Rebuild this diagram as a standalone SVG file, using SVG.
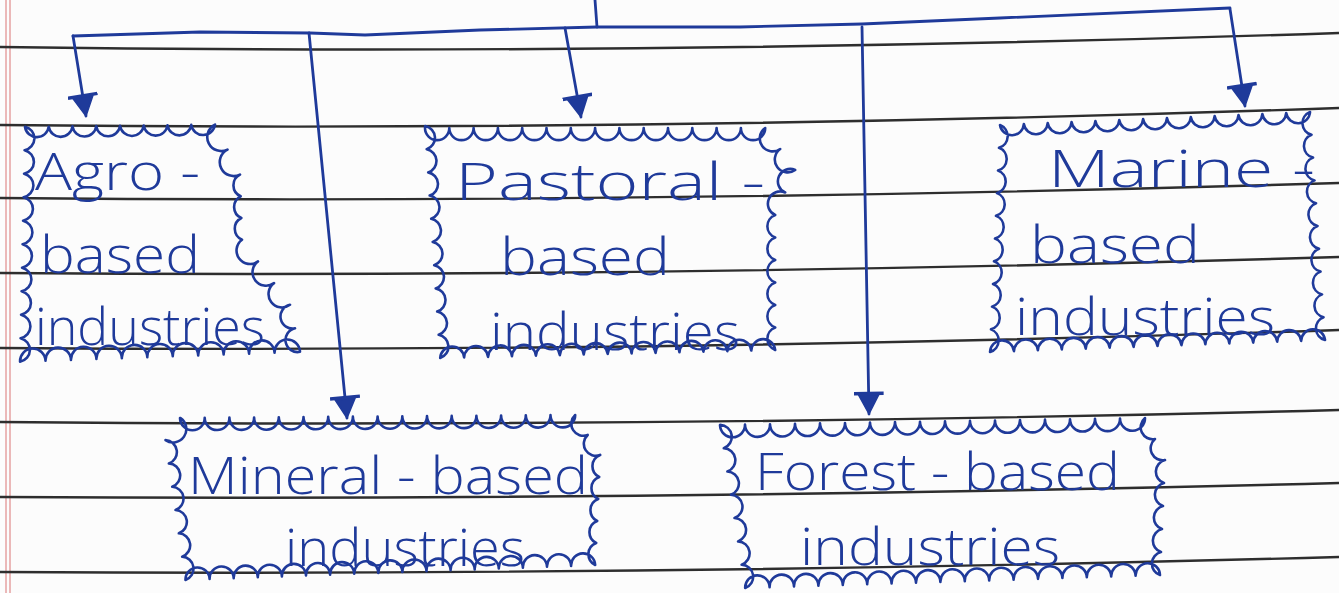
<svg xmlns="http://www.w3.org/2000/svg" width="1339" height="593" viewBox="0 0 1339 593">
<style>
.rule{fill:none;stroke:#2e2e2e;stroke-width:2.4}
.margin{stroke:#e08a8a;stroke-width:1.2}
.ink{fill:none;stroke:#1f3a9a;stroke-width:2.8;stroke-linecap:round;stroke-linejoin:round}
.bd{fill:none;stroke:#1f3a9a;stroke-width:2.6;stroke-linejoin:round}
.t{fill:#1f3a9a;font-family:"Open Sans","Liberation Sans",sans-serif;font-weight:300;font-size:52px}
</style>
<defs>
<marker id="ah" viewBox="0 0 24 30" refX="23" refY="15" markerWidth="24" markerHeight="30" markerUnits="userSpaceOnUse" orient="auto">
<path d="M23 15 L4 5 L4 25 Z" fill="#1f3a9a" stroke="#1f3a9a" stroke-width="1.5" stroke-linejoin="round"/>
<path d="M2.5 0 L2.5 30" stroke="#1f3a9a" stroke-width="3.5"/>
</marker>
</defs>
<rect width="1339" height="593" fill="#fcfcfc"/>
<g id="paper">
<line class="margin" x1="6" y1="0" x2="6" y2="593"/>
<line class="margin" x1="10" y1="0" x2="10" y2="593"/>
<path class="rule" d="M0 47 Q650 56 1339 33"/>
<path class="rule" d="M0 125 Q650 132 1339 108"/>
<path class="rule" d="M0 198 Q650 204 1339 183"/>
<path class="rule" d="M0 273 Q650 278 1339 257"/>
<path class="rule" d="M0 348 Q650 353 1339 330"/>
<path class="rule" d="M0 422 Q650 428 1339 410"/>
<path class="rule" d="M0 497 Q650 501 1339 483"/>
<path class="rule" d="M0 572 Q650 576 1339 557"/>
</g>
<g id="connectors">
<path class="ink" d="M595 0 L597 27"/>
<path class="ink" d="M73 36 L200 32 L310 33 L365 35 L480 30 L597 27 L740 27 L862 24 L1000 18 L1230 8"/>
<path class="ink" d="M73 36 L86 116" marker-end="url(#ah)"/>
<path class="ink" d="M565 28 L581 117" marker-end="url(#ah)"/>
<path class="ink" d="M1230 9 L1245 106" marker-end="url(#ah)"/>
<path class="ink" d="M309 33 L347 418" marker-end="url(#ah)"/>
<path class="ink" d="M862 27 L869 414" marker-end="url(#ah)"/>
</g>
<g id="agro">
<path class="bd" d="M25 127 a12 12 0 0 0 23.75 -0.3 a12 12 0 0 0 23.75 -0.3 a12 12 0 0 0 23.75 -0.3 a12 12 0 0 0 23.75 -0.3 a12 12 0 0 0 23.75 -0.3 a12 12 0 0 0 23.75 -0.3 a12 12 0 0 0 23.75 -0.3 a12 12 0 0 0 23.75 -0.3
a12 12 0 0 0 12.5 25 a12 12 0 0 0 12.5 25
a12 12 0 0 0 0.67 21.7 a12 12 0 0 0 0.67 21.7 a12 12 0 0 0 0.67 21.7
a12 12 0 0 0 16 21.7 a12 12 0 0 0 16 21.7 a12 12 0 0 0 16 21.7
a12 12 0 0 0 5 23.5 a12 12 0 0 0 5 23.5
a12 12 0 0 0 -25.45 0.9 a12 12 0 0 0 -25.45 0.9 a12 12 0 0 0 -25.45 0.9 a12 12 0 0 0 -25.45 0.9 a12 12 0 0 0 -25.45 0.9 a12 12 0 0 0 -25.45 0.9 a12 12 0 0 0 -25.45 0.9 a12 12 0 0 0 -25.45 0.9 a12 12 0 0 0 -25.45 0.9 a12 12 0 0 0 -25.45 0.9 a12 12 0 0 0 -25.45 0.9
a12 12 0 0 0 0.5 -23.5 a12 12 0 0 0 0.5 -23.5 a12 12 0 0 0 0.5 -23.5 a12 12 0 0 0 0.5 -23.5 a12 12 0 0 0 0.5 -23.5 a12 12 0 0 0 0.5 -23.5 a12 12 0 0 0 0.5 -23.5 a12 12 0 0 0 0.5 -23.5 a12 12 0 0 0 0.5 -23.5 a12 12 0 0 0 0.5 -23.5 Z"/>
<text class="t" x="35" y="190" textLength="165" lengthAdjust="spacingAndGlyphs">Agro -</text>
<text class="t" x="40" y="273" textLength="160" lengthAdjust="spacingAndGlyphs">based</text>
<text class="t" x="35" y="345" textLength="230" lengthAdjust="spacingAndGlyphs">industries</text>
</g>
<g id="pastoral">
<path class="bd" d="M425 128 a12 12 0 0 0 24.3 0 a12 12 0 0 0 24.3 0 a12 12 0 0 0 24.3 0 a12 12 0 0 0 24.3 0 a12 12 0 0 0 24.3 0 a12 12 0 0 0 24.3 0 a12 12 0 0 0 24.3 0 a12 12 0 0 0 24.3 0 a12 12 0 0 0 24.3 0 a12 12 0 0 0 24.3 0 a12 12 0 0 0 24.3 0 a12 12 0 0 0 24.3 0 a12 12 0 0 0 24.3 0 a12 12 0 0 0 24.3 0
a12 12 0 0 0 15 21 a12 12 0 0 0 15 21
a12 12 0 0 0 -10 22.5 a12 12 0 0 0 -10 22.5
a12 12 0 0 0 0 22.5 a12 12 0 0 0 0 22.5 a12 12 0 0 0 0 22.5 a12 12 0 0 0 0 22.5 a12 12 0 0 0 0 22.5 a12 12 0 0 0 0 22.5
a12 12 0 0 0 -23.93 0.57 a12 12 0 0 0 -23.93 0.57 a12 12 0 0 0 -23.93 0.57 a12 12 0 0 0 -23.93 0.57 a12 12 0 0 0 -23.93 0.57 a12 12 0 0 0 -23.93 0.57 a12 12 0 0 0 -23.93 0.57 a12 12 0 0 0 -23.93 0.57 a12 12 0 0 0 -23.93 0.57 a12 12 0 0 0 -23.93 0.57 a12 12 0 0 0 -23.93 0.57 a12 12 0 0 0 -23.93 0.57 a12 12 0 0 0 -23.93 0.57 a12 12 0 0 0 -23.93 0.57
a12 12 0 0 0 -1.5 -23.2 a12 12 0 0 0 -1.5 -23.2 a12 12 0 0 0 -1.5 -23.2 a12 12 0 0 0 -1.5 -23.2 a12 12 0 0 0 -1.5 -23.2 a12 12 0 0 0 -1.5 -23.2 a12 12 0 0 0 -1.5 -23.2 a12 12 0 0 0 -1.5 -23.2 a12 12 0 0 0 -1.5 -23.2 a12 12 0 0 0 -1.5 -23.2 Z"/>
<text class="t" x="455" y="200" textLength="310" lengthAdjust="spacingAndGlyphs">Pastoral -</text>
<text class="t" x="500" y="275" textLength="170" lengthAdjust="spacingAndGlyphs">based</text>
<text class="t" x="490" y="350" textLength="250" lengthAdjust="spacingAndGlyphs">industries</text>
</g>
<g id="marine">
<path class="bd" d="M1000 125 a12 12 0 0 0 23.85 -1 a12 12 0 0 0 23.85 -1 a12 12 0 0 0 23.85 -1 a12 12 0 0 0 23.85 -1 a12 12 0 0 0 23.85 -1 a12 12 0 0 0 23.85 -1 a12 12 0 0 0 23.85 -1 a12 12 0 0 0 23.85 -1 a12 12 0 0 0 23.85 -1 a12 12 0 0 0 23.85 -1 a12 12 0 0 0 23.85 -1 a12 12 0 0 0 23.85 -1 a12 12 0 0 0 23.85 -1
a12 12 0 0 0 1.5 22.8 a12 12 0 0 0 1.5 22.8 a12 12 0 0 0 1.5 22.8 a12 12 0 0 0 1.5 22.8 a12 12 0 0 0 1.5 22.8 a12 12 0 0 0 1.5 22.8 a12 12 0 0 0 1.5 22.8 a12 12 0 0 0 1.5 22.8 a12 12 0 0 0 1.5 22.8 a12 12 0 0 0 1.5 22.8
a12 12 0 0 0 -23.93 0.86 a12 12 0 0 0 -23.93 0.86 a12 12 0 0 0 -23.93 0.86 a12 12 0 0 0 -23.93 0.86 a12 12 0 0 0 -23.93 0.86 a12 12 0 0 0 -23.93 0.86 a12 12 0 0 0 -23.93 0.86 a12 12 0 0 0 -23.93 0.86 a12 12 0 0 0 -23.93 0.86 a12 12 0 0 0 -23.93 0.86 a12 12 0 0 0 -23.93 0.86 a12 12 0 0 0 -23.93 0.86 a12 12 0 0 0 -23.93 0.86 a12 12 0 0 0 -23.93 0.86
a12 12 0 0 0 1 -22.7 a12 12 0 0 0 1 -22.7 a12 12 0 0 0 1 -22.7 a12 12 0 0 0 1 -22.7 a12 12 0 0 0 1 -22.7 a12 12 0 0 0 1 -22.7 a12 12 0 0 0 1 -22.7 a12 12 0 0 0 1 -22.7 a12 12 0 0 0 1 -22.7 a12 12 0 0 0 1 -22.7 Z"/>
<text class="t" x="1048" y="187" textLength="267" lengthAdjust="spacingAndGlyphs">Marine -</text>
<text class="t" x="1030" y="263" textLength="170" lengthAdjust="spacingAndGlyphs">based</text>
<text class="t" x="1015" y="335" textLength="260" lengthAdjust="spacingAndGlyphs">industries</text>
</g>
<g id="mineral">
<path class="bd" d="M180 418 a12 12 0 0 0 24.7 -0.19 a12 12 0 0 0 24.7 -0.19 a12 12 0 0 0 24.7 -0.19 a12 12 0 0 0 24.7 -0.19 a12 12 0 0 0 24.7 -0.19 a12 12 0 0 0 24.7 -0.19 a12 12 0 0 0 24.7 -0.19 a12 12 0 0 0 24.7 -0.19 a12 12 0 0 0 24.7 -0.19 a12 12 0 0 0 24.7 -0.19 a12 12 0 0 0 24.7 -0.19 a12 12 0 0 0 24.7 -0.19 a12 12 0 0 0 24.7 -0.19 a12 12 0 0 0 24.7 -0.19 a12 12 0 0 0 24.7 -0.19 a12 12 0 0 0 24.7 -0.19
a12 12 0 0 0 12.5 20 a12 12 0 0 0 12.5 20
a12 12 0 0 0 -1 22 a12 12 0 0 0 -1 22 a12 12 0 0 0 -1 22 a12 12 0 0 0 -1 22 a12 12 0 0 0 -1 22
a12 12 0 0 0 -24.1 0.88 a12 12 0 0 0 -24.1 0.88 a12 12 0 0 0 -24.1 0.88 a12 12 0 0 0 -24.1 0.88 a12 12 0 0 0 -24.1 0.88 a12 12 0 0 0 -24.1 0.88 a12 12 0 0 0 -24.1 0.88 a12 12 0 0 0 -24.1 0.88 a12 12 0 0 0 -24.1 0.88 a12 12 0 0 0 -24.1 0.88 a12 12 0 0 0 -24.1 0.88 a12 12 0 0 0 -24.1 0.88 a12 12 0 0 0 -24.1 0.88 a12 12 0 0 0 -24.1 0.88 a12 12 0 0 0 -24.1 0.88 a12 12 0 0 0 -24.1 0.88 a12 12 0 0 0 -24.1 0.88
a12 12 0 0 0 -3.33 -23.3 a12 12 0 0 0 -3.33 -23.3 a12 12 0 0 0 -3.33 -23.3 a12 12 0 0 0 -3.33 -23.3 a12 12 0 0 0 -3.33 -23.3 a12 12 0 0 0 -3.33 -23.3
a12 12 0 0 0 15 -22 Z"/>
<text class="t" x="188" y="494" textLength="400" lengthAdjust="spacingAndGlyphs">Mineral - based</text>
<text class="t" x="285" y="566" textLength="240" lengthAdjust="spacingAndGlyphs">industries</text>
</g>
<g id="forest">
<path class="bd" d="M720 425 a12 12 0 0 0 25 -0.41 a12 12 0 0 0 25 -0.41 a12 12 0 0 0 25 -0.41 a12 12 0 0 0 25 -0.41 a12 12 0 0 0 25 -0.41 a12 12 0 0 0 25 -0.41 a12 12 0 0 0 25 -0.41 a12 12 0 0 0 25 -0.41 a12 12 0 0 0 25 -0.41 a12 12 0 0 0 25 -0.41 a12 12 0 0 0 25 -0.41 a12 12 0 0 0 25 -0.41 a12 12 0 0 0 25 -0.41 a12 12 0 0 0 25 -0.41 a12 12 0 0 0 25 -0.41 a12 12 0 0 0 25 -0.41 a12 12 0 0 0 25 -0.41
a12 12 0 0 0 10 21 a12 12 0 0 0 10 21
a12 12 0 0 0 -1 23 a12 12 0 0 0 -1 23 a12 12 0 0 0 -1 23 a12 12 0 0 0 -1 23 a12 12 0 0 0 -1 23
a12 12 0 0 0 -24.4 0.76 a12 12 0 0 0 -24.4 0.76 a12 12 0 0 0 -24.4 0.76 a12 12 0 0 0 -24.4 0.76 a12 12 0 0 0 -24.4 0.76 a12 12 0 0 0 -24.4 0.76 a12 12 0 0 0 -24.4 0.76 a12 12 0 0 0 -24.4 0.76 a12 12 0 0 0 -24.4 0.76 a12 12 0 0 0 -24.4 0.76 a12 12 0 0 0 -24.4 0.76 a12 12 0 0 0 -24.4 0.76 a12 12 0 0 0 -24.4 0.76 a12 12 0 0 0 -24.4 0.76 a12 12 0 0 0 -24.4 0.76 a12 12 0 0 0 -24.4 0.76 a12 12 0 0 0 -24.4 0.76
a12 12 0 0 0 -3.57 -23.3 a12 12 0 0 0 -3.57 -23.3 a12 12 0 0 0 -3.57 -23.3 a12 12 0 0 0 -3.57 -23.3 a12 12 0 0 0 -3.57 -23.3 a12 12 0 0 0 -3.57 -23.3 a12 12 0 0 0 -3.57 -23.3 Z"/>
<text class="t" x="755" y="490" textLength="365" lengthAdjust="spacingAndGlyphs">Forest - based</text>
<text class="t" x="800" y="565" textLength="260" lengthAdjust="spacingAndGlyphs">industries</text>
</g>
</svg>
